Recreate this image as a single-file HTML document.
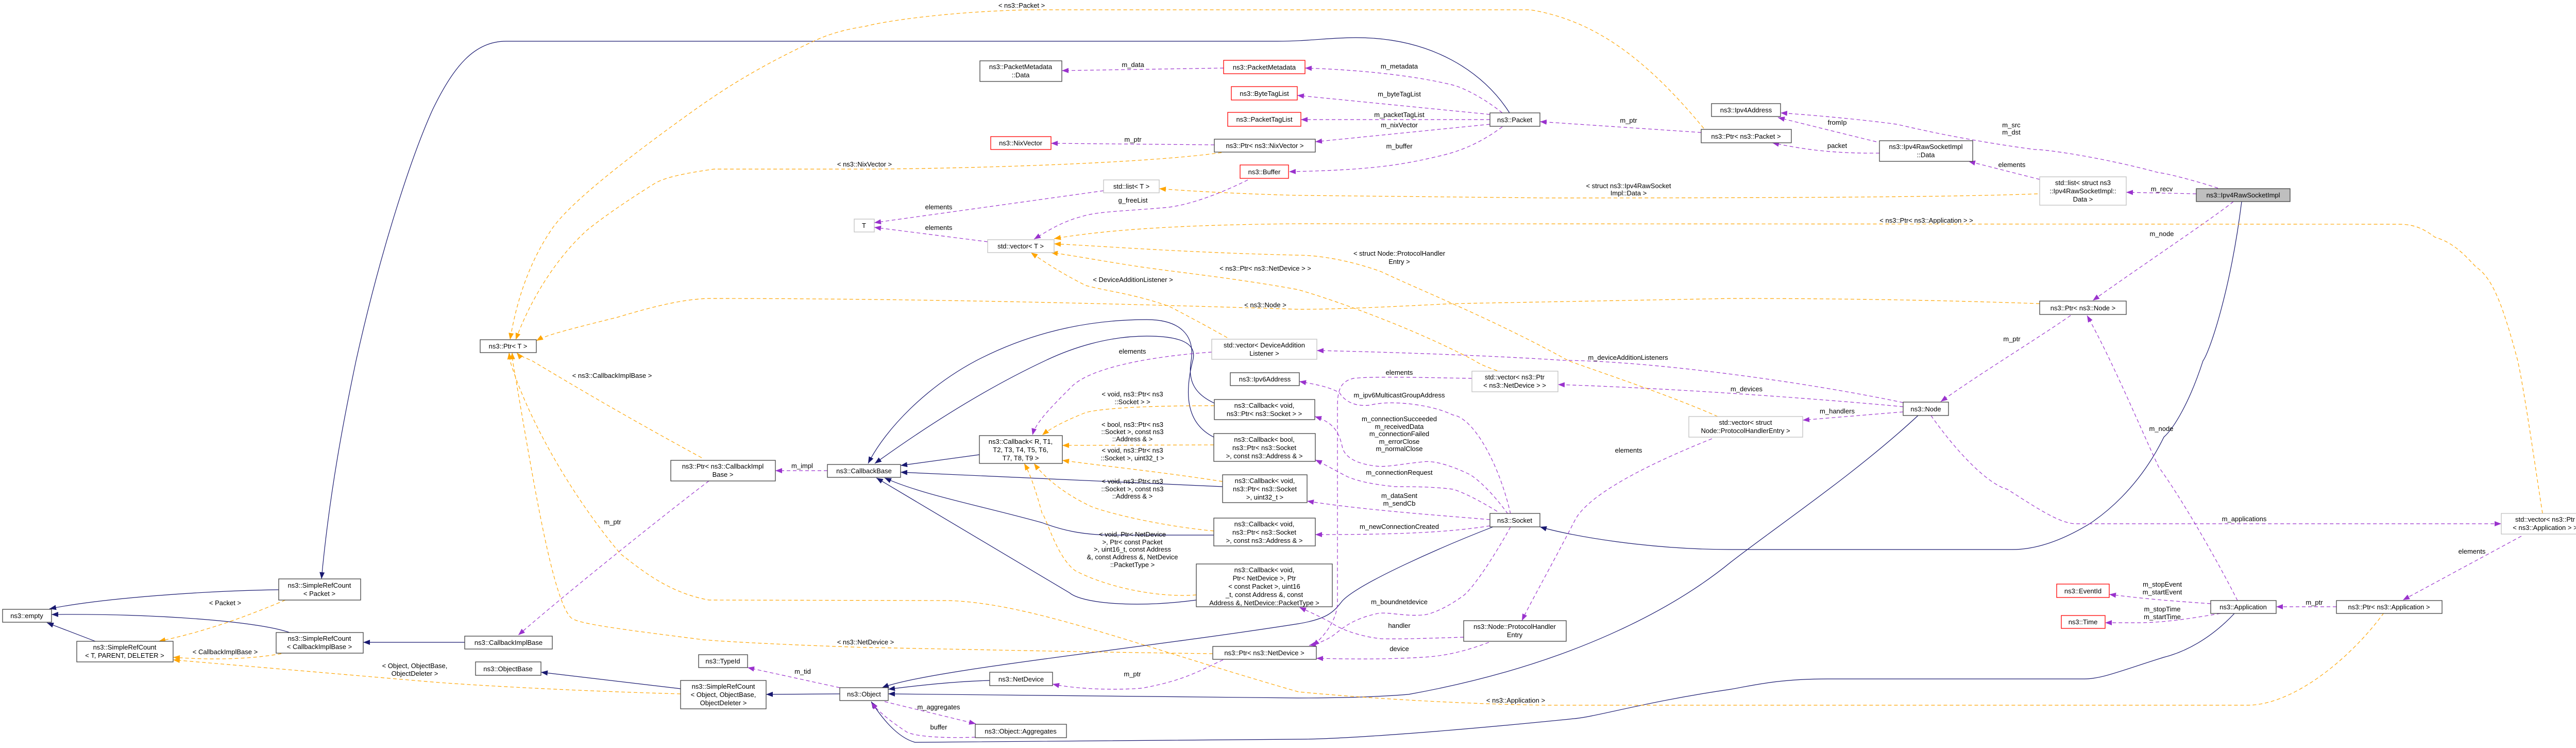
<!DOCTYPE html>
<html><head><meta charset="utf-8"><style>
html,body{margin:0;padding:0;background:#fff;}
svg{display:block;}
text{font-family:"Liberation Sans",sans-serif;font-size:13px;fill:#000;text-anchor:middle;}
.n{fill:#fff;stroke:#404040;stroke-width:1.3;}
.r{fill:#fff;stroke:#ff0000;stroke-width:1.3;}
.g{fill:#fff;stroke:#bfbfbf;stroke-width:1.3;}
.nv{fill:none;stroke:#191970;stroke-width:1.2;marker-end:url(#an);}
.pu{fill:none;stroke:#9a32cd;stroke-width:1.2;stroke-dasharray:7,5;marker-end:url(#ap);}
.or{fill:none;stroke:#ffa500;stroke-width:1.2;stroke-dasharray:7,5;marker-end:url(#ao);}
</style></head><body>
<svg width="5031" height="1451" viewBox="0 0 5031 1451" xmlns="http://www.w3.org/2000/svg">
<defs>
<marker id="an" markerUnits="userSpaceOnUse" markerWidth="14" markerHeight="10" refX="13" refY="5" orient="auto"><path d="M0,0 L13,5 L0,10 z" fill="#191970"/></marker>
<marker id="ap" markerUnits="userSpaceOnUse" markerWidth="14" markerHeight="10" refX="13" refY="5" orient="auto"><path d="M0,0 L13,5 L0,10 z" fill="#9a32cd"/></marker>
<marker id="ao" markerUnits="userSpaceOnUse" markerWidth="14" markerHeight="10" refX="13" refY="5" orient="auto"><path d="M0,0 L13,5 L0,10 z" fill="#ffa500"/></marker>
</defs>

<!-- navy edges -->
<path class="nv" d="M2930,219 C2880,140 2780,73 2632,73 C2580,73 2540,80 2480,80 L982,80 C920,80 880,130 840,212 C800,300 740,480 691,700 C670,800 640,950 624,1123"/>
<path class="nv" d="M541,1144 C400,1146 200,1160 96,1181"/>
<path class="nv" d="M562,1227 C500,1205 300,1190 100,1192"/>
<path class="nv" d="M185,1244 L91,1208"/>
<path class="nv" d="M902,1246 L705,1246"/>
<path class="nv" d="M1321,1336 L1050,1304"/>
<path class="nv" d="M1630,1346 L1487,1347"/>
<path class="nv" d="M1901,882 L1748,903"/>
<path class="nv" d="M2373,944 L1748,916"/>
<path class="nv" d="M2356,1038 L2162,1038 C2100,1038 2060,1028 2023,1014 C1900,980 1790,960 1717,927"/>
<path class="nv" d="M2322,1164 C2200,1180 2100,1170 2076,1150 L1701,927"/>
<path class="nv" d="M2357,782 C2320,765 2305,740 2312,700 C2320,650 2290,620 2226,620 C2100,620 1990,650 1894,700 C1800,750 1720,830 1685,899"/>
<path class="nv" d="M2356,848 C2300,820 2300,760 2315,700 C2325,665 2290,652 2226,652 C2150,652 2080,675 2028,700 C1900,760 1780,840 1698,899"/>
<path class="nv" d="M2898,1022 C2800,1060 2640,1130 2606,1165 C2590,1185 2580,1200 2520,1210 C2200,1260 1800,1300 1712,1334"/>
<path class="nv" d="M1921,1320 C1850,1322 1780,1330 1724,1337"/>
<path class="nv" d="M3723,806 C3600,920 3450,1020 3360,1090 C3250,1180 3050,1290 2734,1347 C2650,1354 2550,1354 2520,1354 C2200,1352 1900,1347 1724,1346"/>
<path class="nv" d="M4337,1190 C4290,1240 4240,1265 4200,1275 C4120,1300 4080,1317 4046,1317 L3547,1317 C3450,1317 3400,1330 3360,1337 C3200,1360 3100,1390 3056,1394 C2800,1420 2600,1434 2520,1434 L1776,1440 C1740,1430 1710,1390 1691,1361"/>
<path class="nv" d="M4351,391 C4330,560 4290,680 4276,700 C4250,780 4220,830 4200,848 C4150,950 4080,1000 4056,1016 C4000,1050 3950,1066 3906,1066 L3360,1066 C3200,1066 3050,1040 2989,1022"/>

<!-- purple edges -->
<path class="pu" d="M1376,933 C1300,990 1100,1150 1006,1232"/>
<path class="pu" d="M1606,913 L1505,913"/>
<path class="pu" d="M1630,1334 L1451,1295"/>
<path class="pu" d="M2352,683 C2250,690 2120,710 2080,750 C2040,790 2010,820 2004,844"/>
<path class="pu" d="M2374,1280 C2330,1300 2300,1320 2216,1335 C2150,1340 2080,1335 2043,1327"/>
<path class="pu" d="M1717,1361 L1894,1404"/>
<path class="pu" d="M1893,1430 C1840,1432 1780,1430 1760,1420 C1730,1400 1710,1385 1691,1363"/>
<path class="pu" d="M2932,1022 C2900,1080 2860,1140 2841,1155 C2800,1185 2770,1193 2761,1193 C2720,1196 2690,1185 2670,1191 C2630,1200 2610,1215 2595,1227 C2580,1240 2560,1248 2541,1252"/>
<path class="pu" d="M2841,1236 C2780,1238 2720,1240 2681,1239 C2640,1235 2600,1220 2584,1208 C2560,1195 2540,1186 2522,1178"/>
<path class="pu" d="M2890,1246 C2840,1265 2800,1273 2761,1275 C2680,1280 2600,1278 2555,1277"/>
<path class="pu" d="M3323,851 C3200,900 3080,960 3056,1011 C3010,1100 2970,1170 2954,1204"/>
<path class="pu" d="M2932,997 C2910,900 2860,810 2820,805 C2780,785 2700,775 2659,786 C2620,790 2605,770 2600,762 C2580,750 2550,745 2522,740"/>
<path class="pu" d="M2927,997 C2900,960 2870,930 2852,920 C2810,900 2780,893 2761,896 C2720,900 2690,907 2670,904 C2620,898 2610,880 2606,870 C2600,840 2590,820 2552,808"/>
<path class="pu" d="M2906,992 C2870,970 2840,955 2820,949 C2780,944 2740,944 2707,944 C2670,940 2640,935 2616,925 C2590,912 2570,900 2553,892"/>
<path class="pu" d="M2892,1008 C2800,1000 2650,990 2537,972"/>
<path class="pu" d="M2892,1020 C2800,1035 2680,1037 2553,1037"/>
<path class="pu" d="M2857,734 C2750,732 2660,730 2627,734 C2600,740 2596,760 2596,790 L2596,1170 C2595,1200 2575,1230 2548,1253"/>
<path class="pu" d="M3694,789 C3600,780 3300,755 3024,746"/>
<path class="pu" d="M3694,799 L3499,815"/>
<path class="pu" d="M3694,781 C3500,740 3200,700 3034,699 C2900,690 2700,683 2556,680"/>
<path class="pu" d="M3748,806 C3800,880 3860,940 3896,949 C3960,990 4000,1016 4030,1016 L4855,1016"/>
<path class="pu" d="M4894,1040 L4664,1164"/>
<path class="pu" d="M4535,1177 L4418,1177"/>
<path class="pu" d="M4291,1171 C4200,1165 4150,1160 4094,1153"/>
<path class="pu" d="M4310,1190 C4250,1200 4200,1208 4150,1208 L4086,1208"/>
<path class="pu" d="M4343,1165 C4300,1080 4230,960 4190,906 C4150,820 4100,700 4051,612"/>
<path class="pu" d="M4019,612 C3950,660 3850,720 3767,779"/>
<path class="pu" d="M4335,391 C4300,420 4150,520 4062,583"/>
<path class="pu" d="M2916,219 C2880,190 2840,170 2820,165 C2760,150 2660,136 2533,132"/>
<path class="pu" d="M2892,222 L2518,185"/>
<path class="pu" d="M2892,232 L2525,232"/>
<path class="pu" d="M2892,241 L2553,275"/>
<path class="pu" d="M2916,246 C2870,280 2830,295 2788,304 C2720,320 2660,330 2502,333"/>
<path class="pu" d="M2375,132 L2061,137"/>
<path class="pu" d="M2357,281 L2040,278"/>
<path class="pu" d="M2422,349 C2380,370 2320,395 2269,402 C2180,410 2130,410 2100,420 C2060,430 2030,450 2007,464"/>
<path class="pu" d="M2142,370 L1697,432"/>
<path class="pu" d="M1917,469 L1697,441"/>
<path class="pu" d="M3302,257 L2989,236"/>
<path class="pu" d="M3642,275 C3580,260 3500,240 3451,228"/>
<path class="pu" d="M3648,297 C3560,298 3500,290 3440,277"/>
<path class="pu" d="M3959,348 L3821,313"/>
<path class="pu" d="M4305,365 C4260,350 4200,335 4190,335 C4100,310 3980,290 3949,290 C3800,270 3700,245 3681,241 C3600,230 3500,222 3456,219"/>
<path class="pu" d="M4263,376 L4127,373"/>

<!-- orange edges -->
<path class="or" d="M554,1164 C480,1195 400,1225 308,1244"/>
<path class="or" d="M546,1268 C480,1280 400,1280 336,1275"/>
<path class="or" d="M1321,1346 C1100,1340 900,1328 840,1323 L336,1280"/>
<path class="or" d="M1362,888 C1200,800 1100,740 1033,700 C1015,692 1008,690 1003,684"/>
<path class="or" d="M2354,1268 C2100,1265 1800,1258 1680,1256 C1500,1250 1400,1244 1365,1241 C1200,1220 1120,1210 1108,1198 C1070,1160 1030,900 995,700 L994,684"/>
<path class="or" d="M4627,1189 C4560,1280 4450,1368 4362,1368 L3000,1368 C2800,1365 2600,1350 2520,1342 C2200,1250 2000,1170 1841,1165 L1376,1164 C1300,1150 1250,1110 1204,1074 C1100,950 1020,800 990,700 L988,684"/>
<path class="or" d="M3959,589 C3700,580 3500,579 3360,579 L2820,589 C2700,595 2600,600 2520,600 C2200,590 1800,579 1376,579 C1320,580 1250,600 1200,615 C1100,640 1060,650 1041,661"/>
<path class="or" d="M3307,249 C3200,120 3100,40 2970,19 L2000,19 C1850,22 1720,40 1680,51 C1620,60 1590,75 1579,80 C1450,140 1380,190 1322,232 C1200,320 1100,400 1070,446 C1020,520 1000,600 990,659"/>
<path class="or" d="M2371,296 C2200,320 1800,328 1680,328 L1386,328 C1300,340 1280,350 1269,357 C1200,400 1160,430 1140,446 C1080,500 1030,580 1001,659"/>
<path class="or" d="M3955,376 C3800,382 3500,384 3000,384 L2520,379 C2400,376 2300,370 2250,366"/>
<path class="or" d="M4935,996 C4920,900 4900,760 4887,700 C4860,600 4840,540 4806,518 C4780,490 4760,470 4726,460 C4700,440 4680,435 4656,435 L2520,434 C2300,436 2150,445 2046,463"/>
<path class="or" d="M3334,808 C3250,770 3100,720 3045,700 C2900,620 2750,560 2681,527 C2620,505 2560,495 2520,495 C2300,490 2150,478 2046,473"/>
<path class="or" d="M2906,719 C2880,710 2870,705 2863,700 C2750,640 2600,585 2520,562 C2400,540 2300,530 2216,518 C2130,505 2080,495 2040,490"/>
<path class="or" d="M2382,655 C2320,620 2280,600 2269,594 C2200,570 2150,565 2108,554 C2060,530 2030,510 2001,490"/>
<path class="or" d="M2357,787 C2250,787 2150,790 2108,800 C2070,815 2040,830 2023,844"/>
<path class="or" d="M2356,863 L2062,864"/>
<path class="or" d="M2373,934 C2250,915 2150,905 2062,893"/>
<path class="or" d="M2356,1030 C2250,1020 2150,995 2119,983 C2070,960 2030,930 2007,899"/>
<path class="or" d="M2322,1154 C2250,1160 2150,1140 2087,1107 C2050,1080 2030,1000 2023,997 C2010,950 2000,920 1988,899"/>

<!-- nodes -->
<rect class="n" x="5" y="1182" width="95" height="25"/><text x="52" y="1199">ns3::empty</text>
<rect class="n" x="149" y="1244" width="187" height="40"/><text x="242" y="1260">ns3::SimpleRefCount</text><text x="242" y="1276">&lt; T, PARENT, DELETER &gt;</text>
<rect class="n" x="541" y="1123" width="159" height="41"/><text x="620" y="1140">ns3::SimpleRefCount</text><text x="620" y="1156">&lt; Packet &gt;</text>
<rect class="n" x="536" y="1227" width="169" height="40"/><text x="620" y="1243">ns3::SimpleRefCount</text><text x="620" y="1259">&lt; CallbackImplBase &gt;</text>
<rect class="n" x="932" y="659" width="109" height="25"/><text x="986" y="676">ns3::Ptr&lt; T &gt;</text>
<rect class="n" x="1302" y="893" width="203" height="40"/><text x="1403" y="909">ns3::Ptr&lt; ns3::CallbackImpl</text><text x="1403" y="925">Base &gt;</text>
<rect class="n" x="902" y="1234" width="170" height="25"/><text x="987" y="1251">ns3::CallbackImplBase</text>
<rect class="n" x="923" y="1284" width="127" height="26"/><text x="986" y="1302">ns3::ObjectBase</text>
<rect class="n" x="1321" y="1320" width="166" height="55"/><text x="1404" y="1336">ns3::SimpleRefCount</text><text x="1404" y="1352">&lt; Object, ObjectBase,</text><text x="1404" y="1368">ObjectDeleter &gt;</text>
<rect class="n" x="1356" y="1270" width="95" height="25"/><text x="1403" y="1287">ns3::TypeId</text>
<rect class="n" x="1630" y="1334" width="94" height="25"/><text x="1677" y="1351">ns3::Object</text>
<rect class="n" x="1606" y="901" width="142" height="25"/><text x="1677" y="918">ns3::CallbackBase</text>
<rect class="n" x="1901" y="845" width="161" height="54"/><text x="1981" y="861">ns3::Callback&lt; R, T1,</text><text x="1981" y="877">T2, T3, T4, T5, T6,</text><text x="1981" y="893">T7, T8, T9 &gt;</text>
<rect class="n" x="2388" y="723" width="134" height="25"/><text x="2455" y="740">ns3::Ipv6Address</text>
<rect class="n" x="2357" y="775" width="195" height="39"/><text x="2454" y="791">ns3::Callback&lt; void,</text><text x="2454" y="807">ns3::Ptr&lt; ns3::Socket &gt; &gt;</text>
<rect class="n" x="2356" y="841" width="197" height="54"/><text x="2454" y="857">ns3::Callback&lt; bool,</text><text x="2454" y="873">ns3::Ptr&lt; ns3::Socket</text><text x="2454" y="889">&gt;, const ns3::Address &amp; &gt;</text>
<rect class="n" x="2373" y="921" width="164" height="54"/><text x="2455" y="937">ns3::Callback&lt; void,</text><text x="2455" y="953">ns3::Ptr&lt; ns3::Socket</text><text x="2455" y="969">&gt;, uint32_t &gt;</text>
<rect class="n" x="2356" y="1005" width="197" height="54"/><text x="2454" y="1021">ns3::Callback&lt; void,</text><text x="2454" y="1037">ns3::Ptr&lt; ns3::Socket</text><text x="2454" y="1053">&gt;, const ns3::Address &amp; &gt;</text>
<rect class="n" x="2322" y="1094" width="264" height="83"/><text x="2454" y="1110">ns3::Callback&lt; void,</text><text x="2454" y="1126">Ptr&lt; NetDevice &gt;, Ptr</text><text x="2454" y="1142">&lt; const Packet &gt;, uint16</text><text x="2454" y="1158">_t, const Address &amp;, const</text><text x="2454" y="1174">Address &amp;, NetDevice::PacketType &gt;</text>
<rect class="n" x="2354" y="1254" width="201" height="25"/><text x="2454" y="1271">ns3::Ptr&lt; ns3::NetDevice &gt;</text>
<rect class="n" x="1921" y="1304" width="122" height="26"/><text x="1982" y="1322">ns3::NetDevice</text>
<rect class="n" x="1893" y="1405" width="177" height="26"/><text x="1981" y="1423">ns3::Object::Aggregates</text>
<rect class="n" x="2892" y="996" width="97" height="26"/><text x="2940" y="1014">ns3::Socket</text>
<rect class="g" x="2857" y="720" width="167" height="40"/><text x="2940" y="736">std::vector&lt; ns3::Ptr</text><text x="2940" y="752">&lt; ns3::NetDevice &gt; &gt;</text>
<rect class="n" x="2841" y="1204" width="199" height="40"/><text x="2940" y="1220">ns3::Node::ProtocolHandler</text><text x="2940" y="1236">Entry</text>
<rect class="g" x="3278" y="808" width="221" height="40"/><text x="3388" y="824">std::vector&lt; struct</text><text x="3388" y="840">Node::ProtocolHandlerEntry &gt;</text>
<rect class="n" x="3694" y="780" width="88" height="26"/><text x="3738" y="798">ns3::Node</text>
<rect class="r" x="3992" y="1133" width="102" height="26"/><text x="4043" y="1151">ns3::EventId</text>
<rect class="r" x="4001" y="1194" width="85" height="25"/><text x="4043" y="1211">ns3::Time</text>
<rect class="n" x="4291" y="1165" width="127" height="25"/><text x="4354" y="1182">ns3::Application</text>
<rect class="n" x="4535" y="1165" width="205" height="25"/><text x="4637" y="1182">ns3::Ptr&lt; ns3::Application &gt;</text>
<rect class="g" x="4855" y="996" width="171" height="40"/><text x="4940" y="1012">std::vector&lt; ns3::Ptr</text><text x="4940" y="1028">&lt; ns3::Application &gt; &gt;</text>
<rect class="n" x="1902" y="118" width="159" height="40"/><text x="1981" y="134">ns3::PacketMetadata</text><text x="1981" y="150">::Data</text>
<rect class="r" x="2375" y="117" width="158" height="26"/><text x="2454" y="135">ns3::PacketMetadata</text>
<rect class="r" x="2390" y="168" width="128" height="26"/><text x="2454" y="186">ns3::ByteTagList</text>
<rect class="r" x="2383" y="218" width="142" height="27"/><text x="2454" y="236">ns3::PacketTagList</text>
<rect class="r" x="1923" y="265" width="117" height="25"/><text x="1981" y="282">ns3::NixVector</text>
<rect class="n" x="2357" y="270" width="196" height="25"/><text x="2455" y="287">ns3::Ptr&lt; ns3::NixVector &gt;</text>
<rect class="r" x="2407" y="320" width="94" height="26"/><text x="2454" y="338">ns3::Buffer</text>
<rect class="g" x="2142" y="349" width="108" height="25"/><text x="2196" y="366">std::list&lt; T &gt;</text>
<rect class="g" x="1658" y="425" width="39" height="25"/><text x="1677" y="442">T</text>
<rect class="g" x="1917" y="465" width="129" height="25"/><text x="1981" y="482">std::vector&lt; T &gt;</text>
<rect class="g" x="2352" y="658" width="204" height="39"/><text x="2454" y="674">std::vector&lt; DeviceAddition</text><text x="2454" y="690">Listener &gt;</text>
<rect class="n" x="2892" y="219" width="97" height="26"/><text x="2940" y="237">ns3::Packet</text>
<rect class="n" x="3322" y="201" width="134" height="25"/><text x="3389" y="218">ns3::Ipv4Address</text>
<rect class="n" x="3302" y="251" width="175" height="26"/><text x="3389" y="269">ns3::Ptr&lt; ns3::Packet &gt;</text>
<rect class="n" x="3648" y="273" width="181" height="40"/><text x="3738" y="289">ns3::Ipv4RawSocketImpl</text><text x="3738" y="305">::Data</text>
<rect class="g" x="3959" y="343" width="168" height="55"/><text x="4043" y="359">std::list&lt; struct ns3</text><text x="4043" y="375">::Ipv4RawSocketImpl::</text><text x="4043" y="391">Data &gt;</text>
<rect class="n" x="3959" y="584" width="168" height="26"/><text x="4043" y="602">ns3::Ptr&lt; ns3::Node &gt;</text>
<rect x="4263" y="366" width="182" height="25" fill="#bfbfbf" stroke="#404040" stroke-width="1.3"/><text x="4354" y="383">ns3::Ipv4RawSocketImpl</text>

<!-- labels -->
<text x="437" y="1174">&lt; Packet &gt;</text>
<text x="437" y="1269">&lt; CallbackImplBase &gt;</text>
<text x="805" y="1296">&lt; Object, ObjectBase,</text><text x="805" y="1311">ObjectDeleter &gt;</text>
<text x="1188" y="733">&lt; ns3::CallbackImplBase &gt;</text>
<text x="1189" y="1017">m_ptr</text>
<text x="1557" y="908">m_impl</text>
<text x="1558" y="1307">m_tid</text>
<text x="1680" y="1250">&lt; ns3::NetDevice &gt;</text>
<text x="2198" y="769">&lt; void, ns3::Ptr&lt; ns3</text><text x="2198" y="784">::Socket &gt; &gt;</text>
<text x="2198" y="828">&lt; bool, ns3::Ptr&lt; ns3</text><text x="2198" y="842">::Socket &gt;, const ns3</text><text x="2198" y="856">::Address &amp; &gt;</text>
<text x="2198" y="878">&lt; void, ns3::Ptr&lt; ns3</text><text x="2198" y="893">::Socket &gt;, uint32_t &gt;</text>
<text x="2198" y="938">&lt; void, ns3::Ptr&lt; ns3</text><text x="2198" y="953">::Socket &gt;, const ns3</text><text x="2198" y="967">::Address &amp; &gt;</text>
<text x="2198" y="1041">&lt; void, Ptr&lt; NetDevice</text><text x="2198" y="1056">&gt;, Ptr&lt; const Packet</text><text x="2198" y="1070">&gt;, uint16_t, const Address</text><text x="2198" y="1085">&amp;, const Address &amp;, NetDevice</text><text x="2198" y="1100">::PacketType &gt;</text>
<text x="2198" y="1312">m_ptr</text>
<text x="1822" y="1376">m_aggregates</text>
<text x="1822" y="1415">buffer</text>
<text x="2716" y="727">elements</text>
<text x="2716" y="771">m_ipv6MulticastGroupAddress</text>
<text x="2716" y="817">m_connectionSucceeded</text><text x="2716" y="832">m_receivedData</text><text x="2716" y="846">m_connectionFailed</text><text x="2716" y="861">m_errorClose</text><text x="2716" y="875">m_normalClose</text>
<text x="2716" y="921">m_connectionRequest</text>
<text x="2716" y="966">m_dataSent</text><text x="2716" y="981">m_sendCb</text>
<text x="2716" y="1026">m_newConnectionCreated</text>
<text x="2716" y="1172">m_boundnetdevice</text>
<text x="2716" y="1218">handler</text>
<text x="2716" y="1263">device</text>
<text x="3161" y="878">elements</text>
<text x="2942" y="1363">&lt; ns3::Application &gt;</text>
<text x="3390" y="759">m_devices</text>
<text x="3566" y="802">m_handlers</text>
<text x="4356" y="1011">m_applications</text>
<text x="4798" y="1074">elements</text>
<text x="4492" y="1173">m_ptr</text>
<text x="4197" y="1138">m_stopEvent</text><text x="4197" y="1153">m_startEvent</text>
<text x="4197" y="1186">m_stopTime</text><text x="4197" y="1201">m_startTime</text>
<text x="4195" y="836">m_node</text>
<text x="3905" y="662">m_ptr</text>
<text x="4196" y="458">m_node</text>
<text x="2199" y="130">m_data</text>
<text x="2199" y="275">m_ptr</text>
<text x="1822" y="406">elements</text>
<text x="1822" y="446">elements</text>
<text x="2199" y="393">g_freeList</text>
<text x="2199" y="547">&lt; DeviceAdditionListener &gt;</text>
<text x="2456" y="525">&lt; ns3::Ptr&lt; ns3::NetDevice &gt; &gt;</text>
<text x="2456" y="596">&lt; ns3::Node &gt;</text>
<text x="1983" y="15">&lt; ns3::Packet &gt;</text>
<text x="1678" y="323">&lt; ns3::NixVector &gt;</text>
<text x="2198" y="686">elements</text>
<text x="2716" y="133">m_metadata</text>
<text x="2716" y="187">m_byteTagList</text>
<text x="2716" y="227">m_packetTagList</text>
<text x="2716" y="247">m_nixVector</text>
<text x="2716" y="288">m_buffer</text>
<text x="3161" y="238">m_ptr</text>
<text x="3161" y="365">&lt; struct ns3::Ipv4RawSocket</text><text x="3161" y="379">Impl::Data &gt;</text>
<text x="2716" y="496">&lt; struct Node::ProtocolHandler</text><text x="2716" y="512">Entry &gt;</text>
<text x="3160" y="698">m_deviceAdditionListeners</text>
<text x="3566" y="242">fromIp</text>
<text x="3566" y="287">packet</text>
<text x="3904" y="247">m_src</text><text x="3904" y="261">m_dst</text>
<text x="3905" y="324">elements</text>
<text x="4196" y="371">m_recv</text>
<text x="3739" y="432">&lt; ns3::Ptr&lt; ns3::Application &gt; &gt;</text>
</svg>
</body></html>
